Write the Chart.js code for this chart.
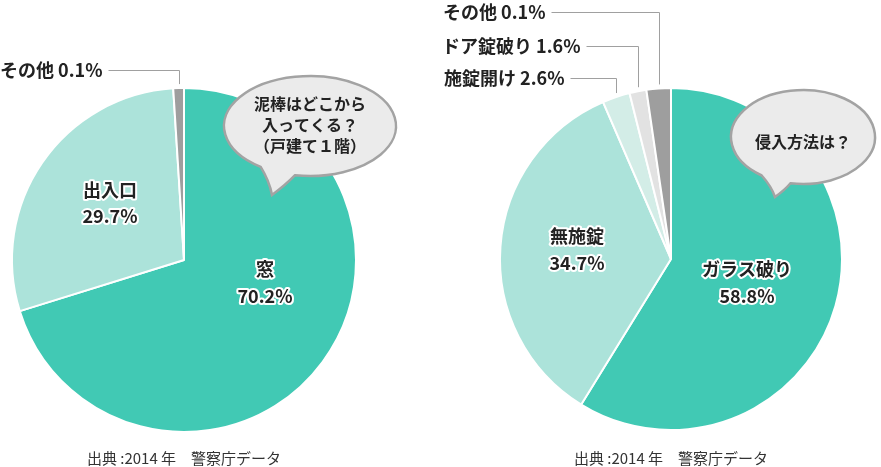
<!DOCTYPE html>
<html><head><meta charset="utf-8">
<script src="https://cdn.jsdelivr.net/npm/chart.js@4"></script>
<style>
html,body{margin:0;padding:0;background:#fff;width:881px;height:467px;overflow:hidden}
#c1{position:absolute;left:0;top:0}
#c2{position:absolute;left:440px;top:0}
</style></head>
<body>
<canvas id="c1" width="440" height="467"></canvas>
<canvas id="c2" width="441" height="467"></canvas>
<script>
// ---- data (left: 泥棒はどこから入ってくる？) ----
const leftCategories = ['窓', '出入口', 'その他'];
const leftPercentLabels = ['70.2%', '29.7%', '0.1%'];
const leftValues = [70.2, 28.8, 1.0];          // slice shares as drawn
const leftColors = ['#41C9B4', '#ACE3DA', '#9E9E9E'];

// ---- data (right: 侵入方法は？) ----
const rightCategories = ['ガラス破り', '無施錠', '施錠開け', 'ドア錠破り', 'その他'];
const rightPercentLabels = ['58.8%', '34.7%', '2.6%', '1.6%', '0.1%'];
const rightValues = [58.8, 34.7, 2.6, 1.6, 2.3]; // slice shares as drawn
const rightColors = ['#41C9B4', '#ACE3DA', '#D3EDE7', '#E2E2E2', '#9E9E9E'];

const sourceText = '出典 :2014 年　警察庁データ';
const FONT = '"Noto Sans CJK JP", "Noto Sans", sans-serif';

function drawBubble(ctx, b) {
  const d = Math.PI / 180;
  ctx.save();
  ctx.beginPath();
  ctx.ellipse(b.cx, b.cy, b.rx, b.ry, 0, b.a2 * d, (b.a1 + 360) * d);
  const p1 = {x: b.cx + b.rx * Math.cos(b.a1 * d), y: b.cy + b.ry * Math.sin(b.a1 * d)};
  const p2 = {x: b.cx + b.rx * Math.cos(b.a2 * d), y: b.cy + b.ry * Math.sin(b.a2 * d)};
  ctx.quadraticCurveTo((p1.x + b.tip.x) / 2 + 2, (p1.y + b.tip.y) / 2, b.tip.x, b.tip.y);
  ctx.quadraticCurveTo((p2.x + b.tip.x) / 2 + 3, (p2.y + b.tip.y) / 2, p2.x, p2.y);
  ctx.closePath();
  ctx.fillStyle = '#EBEBEB';
  ctx.fill();
  ctx.lineWidth = 2.5;
  ctx.strokeStyle = '#A3A3A3';
  ctx.stroke();
  ctx.fillStyle = '#222';
  ctx.font = 'bold ' + b.size + 'px ' + FONT;
  ctx.textAlign = 'center';
  ctx.textBaseline = 'middle';
  b.lines.forEach((t, i) => ctx.fillText(t, b.tx, b.ty + i * b.lh));
  ctx.restore();
}

const annot = {
  id: 'annot',
  afterDraw(chart, args, o) {
    const ctx = chart.ctx;
    const meta = chart.getDatasetMeta(0);
    const cats = chart.data.labels;
    const pcts = o.pcts;
    ctx.save();
    // inner labels
    ctx.font = 'bold 18px ' + FONT;
    ctx.textAlign = 'center';
    ctx.textBaseline = 'middle';
    ctx.lineJoin = 'round';
    o.inner.forEach(l => {
      [[cats[l.i], l.y], [pcts[l.i], l.y + l.gap]].forEach(([t, y]) => {
        ctx.strokeStyle = '#fff'; ctx.lineWidth = 4;
        ctx.strokeText(t, l.x, y);
        ctx.fillStyle = '#222';
        ctx.fillText(t, l.x, y);
      });
    });
    // outer labels with leader lines
    ctx.textAlign = 'left';
    o.outer.forEach(l => {
      const t = cats[l.i] + ' ' + pcts[l.i];
      ctx.fillStyle = '#222';
      ctx.fillText(t, l.x, l.y);
      const w = ctx.measureText(t).width;
      const arc = meta.data[l.i];
      const a = (arc.startAngle + arc.endAngle) / 2;
      const px = arc.x + Math.cos(a) * arc.outerRadius;
      const py = arc.y + Math.sin(a) * arc.outerRadius;
      ctx.beginPath();
      ctx.moveTo(l.x + w + 6, l.y + 0.5);
      ctx.lineTo(Math.round(px) + 0.5, l.y + 0.5);
      ctx.lineTo(Math.round(px) + 0.5, py - 4);
      ctx.strokeStyle = '#A0A0A0';
      ctx.lineWidth = 1;
      ctx.stroke();
    });
    // source caption
    ctx.font = '15px ' + FONT;
    ctx.textAlign = 'center';
    ctx.fillStyle = '#333';
    ctx.fillText(sourceText, meta.data[0].x, o.captionY);
    ctx.restore();
    drawBubble(ctx, o.bubble);
  }
};

function makePie(id, labels, values, colors, padding, opts) {
  return new Chart(document.getElementById(id), {
    type: 'pie',
    data: { labels: labels, datasets: [{ data: values, backgroundColor: colors, borderColor: '#fff', borderWidth: 2 }] },
    options: {
      responsive: false, animation: false,
      layout: { padding: padding },
      plugins: { legend: { display: false }, tooltip: { enabled: false }, annot: opts }
    },
    plugins: [annot]
  });
}

makePie('c1', leftCategories, leftValues, leftColors,
  { left: 11, right: 83, top: 87, bottom: 34 },
  {
    pcts: leftPercentLabels,
    inner: [{i: 0, x: 265, y: 269, gap: 27}, {i: 1, x: 110, y: 190, gap: 26}],
    outer: [{i: 2, x: 0, y: 70}],
    captionY: 458,
    bubble: {cx: 310, cy: 126, rx: 86, ry: 50, a1: 100, a2: 125, tip: {x: 272, y: 195},
      lines: ['泥棒はどこから', '入ってくる？', '（戸建て１階）'], tx: 310, ty: 104, lh: 21, size: 16}
  });

makePie('c2', rightCategories, rightValues, rightColors,
  { left: 59, right: 38, top: 87, bottom: 36 },
  {
    pcts: rightPercentLabels,
    inner: [{i: 0, x: 307, y: 269, gap: 27}, {i: 1, x: 137, y: 236, gap: 27}],
    outer: [{i: 4, x: 3, y: 12}, {i: 3, x: 2, y: 46}, {i: 2, x: 4, y: 78}],
    captionY: 458,
    bubble: {cx: 363, cy: 137, rx: 72, ry: 47, a1: 100, a2: 125, tip: {x: 335, y: 197},
      lines: ['侵入方法は？'], tx: 363, ty: 142, lh: 20, size: 16}
  });
</script>
</body></html>
